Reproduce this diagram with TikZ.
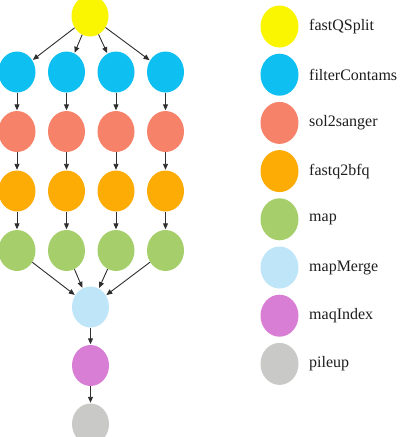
\documentclass[tikz,border=0pt]{standalone}
\usepackage{fontspec}
\setmainfont{Liberation Serif}
\usetikzlibrary{shapes.geometric,arrows.meta}

\definecolor{cSplit}{HTML}{FAF500}
\definecolor{cFilter}{HTML}{0EBFF2}
\definecolor{cSanger}{HTML}{F7826A}
\definecolor{cBfq}{HTML}{FDAB05}
\definecolor{cMap}{HTML}{A6CF6C}
\definecolor{cMerge}{HTML}{BEE5F8}
\definecolor{cIndex}{HTML}{D87ED5}
\definecolor{cPileup}{HTML}{C9CAC8}
\definecolor{cEdge}{HTML}{2E2E2E}
\definecolor{cText}{HTML}{1E1E1E}

\tikzset{
  job/.style={ellipse, draw=none, fill=#1, minimum width=37pt, minimum height=41pt, inner sep=0pt},
  key/.style={ellipse, draw=none, fill=#1, minimum width=38pt, minimum height=42pt, inner sep=0pt},
  keytext/.style={anchor=west, inner sep=0pt, text=cText, font=\fontsize{16}{18}\selectfont},
  flow/.style={draw=cEdge, line width=0.9pt, -{Triangle[length=6pt,width=5pt]}, shorten >=0.5pt}
}

\begin{document}
\begin{tikzpicture}[x=1pt,y=-1pt]
  \clip (0,0) rectangle (401,437);
  \fill[white] (0,0) rectangle (401,437);

  % workflow
  \node[job=cSplit] (split) at (90,16) {};
  \foreach \i/\x in {1/17,2/66.5,3/116,4/165.5}{
    \node[job=cFilter] (f\i) at (\x,72) {};
    \node[job=cSanger] (s\i) at (\x,131.5) {};
    \node[job=cBfq] (q\i) at (\x,191) {};
    \node[job=cMap] (m\i) at (\x,250.5) {};
  }
  \node[job=cMerge] (merge) at (90.5,307) {};
  \node[job=cIndex] (index) at (90.5,365.5) {};
  \node[job=cPileup] (pileup) at (90.5,424) {};

  \foreach \i in {1,2,3,4}{
    \draw[flow] (split) -- (f\i);
    \draw[flow] (f\i) -- (s\i);
    \draw[flow] (s\i) -- (q\i);
    \draw[flow] (q\i) -- (m\i);
    \draw[flow] (m\i) -- (merge);
  }
  \draw[flow] (merge) -- (index);
  \draw[flow] (index) -- (pileup);

  % legend
  \foreach \n/\c/\t [count=\k from 0] in {
      a/cSplit/fastQSplit,
      b/cFilter/filterContams,
      c/cSanger/sol2sanger,
      d/cBfq/fastq2bfq,
      e/cMap/map,
      f/cMerge/mapMerge,
      g/cIndex/maqIndex,
      h/cPileup/pileup}{
    \node[key=\c] (key\n) at (279.5,{26.5+48.2*\k}) {};
    \node[keytext] (lab\n) at (309,{26.5+48.2*\k}) {\t};
  }
\end{tikzpicture}
\end{document}
